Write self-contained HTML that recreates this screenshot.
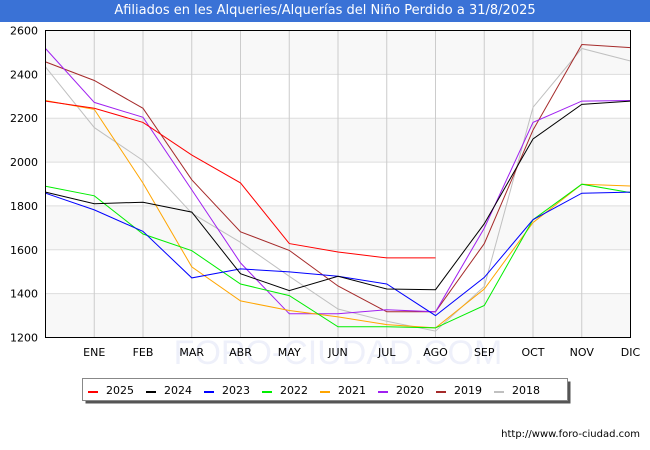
<!DOCTYPE html>
<html><head><meta charset="utf-8"><style>
body{margin:0;width:650px;height:450px;background:#fff;overflow:hidden;font-family:"DejaVu Sans","Liberation Sans",sans-serif}
#title{position:absolute;left:0;top:0;width:650px;height:22px;background:#3a72d6;color:#fff;font-size:13px;line-height:22px;text-align:center}
svg{position:absolute;left:0;top:0}
</style></head><body>
<div id="title">Afiliados en les Alqueries/Alquerías del Niño Perdido a 31/8/2025</div>
<svg id="chart" width="650" height="450"></svg>
<script>
const months = ["", "ENE","FEB","MAR","ABR","MAY","JUN","JUL","AGO","SEP","OCT","NOV","DIC"];
const yTicks = [1200,1400,1600,1800,2000,2200,2400,2600];
const seriesNames = ["2025","2024","2023","2022","2021","2020","2019","2018"];
const seriesColors = ["#ff0000","#000000","#0000ff","#00ee00","#ffa500","#a020f0","#a52a2a","#c0c0c0"];
const s2025 = [2278,2245,2181,2032,1905,1628,1590,1563,1563];
const s2024 = [1863,1810,1817,1772,1491,1414,1479,1421,1418,1719,2105,2263,2278];
const s2023 = [1858,1782,1684,1472,1513,1499,1479,1444,1300,1474,1737,1858,1863];
const s2022 = [1890,1846,1672,1596,1444,1391,1249,1249,1244,1346,1737,1899,1861];
const s2021 = [2281,2240,1904,1522,1367,1323,1294,1259,1244,1421,1724,1899,1891];
const s2020 = [2518,2272,2204,1873,1540,1308,1308,1327,1317,1699,2181,2278,2281];
const s2019 = [2457,2372,2245,1919,1682,1597,1435,1317,1317,1628,2146,2536,2522];
const s2018 = [2434,2157,2007,1767,1634,1479,1330,1274,1229,1433,2250,2518,2461];
const allSeries = [s2025,s2024,s2023,s2022,s2021,s2020,s2019,s2018];

const NS="http://www.w3.org/2000/svg";
const svg=document.getElementById('chart');
const L=45.5,R=630.5,T=30.5,B=337.5,yMin=1200,yMax=2600;
const x=i=>L+(R-L)*i/(months.length-1);
const y=v=>B-(v-yMin)/(yMax-yMin)*(B-T);
function mk(tag,attrs,parent){const e=document.createElementNS(NS,tag);for(const k in attrs)e.setAttribute(k,attrs[k]);(parent||svg).appendChild(e);return e;}

// bands
for(let k=0;k<yTicks.length-1;k++){
  const b=mk('rect',{x:L,y:y(yTicks[k+1]),width:R-L,height:y(yTicks[k])-y(yTicks[k+1]),fill:k%2==0?'#f8f8f8':'#ffffff'});
  
  
}
// watermark
const wm=mk('text',{x:338,y:364,'text-anchor':'middle','font-size':34,fill:'#eef0fa','font-family':'Liberation Sans, sans-serif'});
wm.textContent='FORO-CIUDAD.COM';


// grid
yTicks.forEach(t=>{
  const g=mk('line',{x1:L,x2:R,y1:y(t),y2:y(t),stroke:'#dddddd'});
  
  
  const tx=mk('text',{x:38,y:y(t)+4,'text-anchor':'end','font-size':11,fill:'#000'});
  tx.textContent=t;
  
  
});
months.forEach((m,i)=>{
  if(i>0){
    const g=mk('line',{x1:x(i),x2:x(i),y1:T,y2:B,stroke:'#cccccc'});
    
    
  }
  const tx=mk('text',{x:x(i),y:356,'text-anchor':'middle','font-size':11,fill:'#000'});
  tx.textContent=m;
  
  
});
// series (draw oldest first)
for(let s=allSeries.length-1;s>=0;s--){
  const pts=allSeries[s].map((v,i)=>x(i).toFixed(1)+','+y(v).toFixed(1)).join(' ');
  const p=mk('polyline',{points:pts,fill:'none',stroke:seriesColors[s],'stroke-width':1});
  
  
}
const fr=mk('rect',{x:L,y:T,width:R-L,height:B-T,fill:'none',stroke:'#000'});


// legend
const lg=mk('g',{});


mk('rect',{x:85.5,y:381.5,width:485,height:22,fill:'#555'},lg);
mk('rect',{x:82.5,y:378.5,width:485,height:22,fill:'#fff',stroke:'#888'},lg);
seriesNames.forEach((n,k)=>{
  const gx=88+k*58;
  const e=mk('g',{},lg);
  
  
  mk('rect',{x:gx,y:391,width:10,height:2,fill:seriesColors[k]},e);
  const t=mk('text',{x:gx+18,y:394,'font-size':11,fill:'#000'},e);
  t.textContent=n;
});
const ft=mk('text',{x:640,y:437,'text-anchor':'end','font-size':10,fill:'#000'});
ft.textContent='http://www.foro-ciudad.com';


</script>
</body></html>
